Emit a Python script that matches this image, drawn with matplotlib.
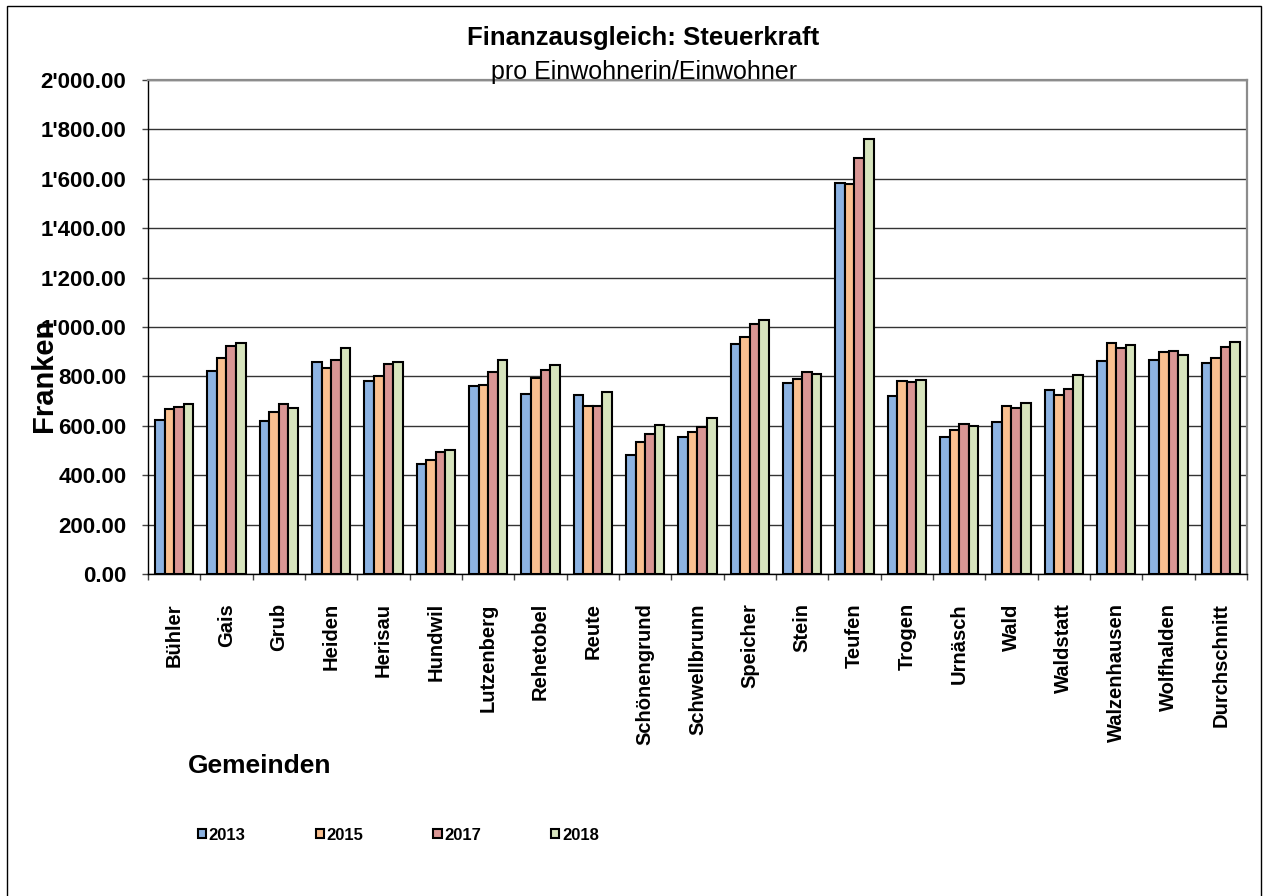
import matplotlib
matplotlib.use("Agg")
import matplotlib.pyplot as plt
import numpy as np
from matplotlib.patches import Rectangle
from matplotlib.ticker import FuncFormatter, MultipleLocator

# data (Franken pro Einwohnerin/Einwohner)
gemeinden = ["Bühler", "Gais", "Grub", "Heiden", "Herisau", "Hundwil", "Lutzenberg",
             "Rehetobel", "Reute", "Schönengrund", "Schwellbrunn", "Speicher", "Stein",
             "Teufen", "Trogen", "Urnäsch", "Wald", "Waldstatt", "Walzenhausen",
             "Wolfhalden", "Durchschnitt"]
years = ["2013", "2015", "2017", "2018"]
v2013 = [624, 822, 618, 858, 780, 447, 761, 730, 723, 480, 553, 932, 773, 1583, 719, 553, 614, 743, 861, 866, 853]
v2015 = [668, 874, 654, 834, 801, 461, 765, 793, 682, 535, 573, 961, 789, 1577, 780, 585, 681, 723, 934, 899, 876]
v2017 = [677, 923, 689, 865, 851, 495, 816, 827, 682, 565, 596, 1014, 816, 1683, 777, 607, 673, 750, 915, 904, 919]
v2018 = [688, 935, 674, 916, 857, 504, 865, 845, 738, 604, 632, 1030, 809, 1760, 786, 600, 693, 807, 927, 888, 941]
series = [v2013, v2015, v2017, v2018]
colors = ["#8DB3E2", "#FAC090", "#D99694", "#D7E4BD"]

plt.rcParams["font.family"] = ["Liberation Sans", "DejaVu Sans"]

W, H = 1267, 896
fig = plt.figure(figsize=(W / 100, H / 100), dpi=100)

# outer chart border
fig.patches.append(Rectangle((7 / W, -0.01), (1261 - 7) / W, 1.01 - 6 / H,
                             transform=fig.transFigure, fill=False,
                             edgecolor="black", linewidth=1.0))

ax = fig.add_axes([148 / W, 1 - 574 / H, (1247 - 148) / W, (574 - 80) / H])

x = np.arange(len(gemeinden))
bw = 0.183
for i, (vals, col, lab) in enumerate(zip(series, colors, years)):
    ax.bar(x + (i - 1.5) * bw, vals, bw, color=col, edgecolor="black",
           linewidth=1.5, label=lab, zorder=3)

ax.set_xlim(-0.5, len(gemeinden) - 0.5)
ax.set_ylim(0, 2000)
ax.yaxis.set_major_locator(MultipleLocator(200))
ax.yaxis.set_major_formatter(FuncFormatter(lambda v, p: f"{v:,.2f}".replace(",", "'")))
ax.yaxis.grid(True, color="#333333", linewidth=1.0, zorder=0)
ax.set_axisbelow(True)

for s in ["top", "right"]:
    ax.spines[s].set_color("#8c8c8c")
    ax.spines[s].set_linewidth(1.6)
for s in ["left", "bottom"]:
    ax.spines[s].set_color("black")
    ax.spines[s].set_linewidth(1.0)

ax.tick_params(axis="y", direction="out", length=4.5, width=1, color="#444444",
               pad=11, labelsize=16)
for lbl in ax.get_yticklabels():
    lbl.set_fontweight("bold")

ax.set_xticks(x)
ax.set_xticklabels(gemeinden, rotation=90, fontweight="bold", fontsize=14.5)
ax.set_xticks(np.arange(-0.5, len(gemeinden), 1), minor=True)
ax.tick_params(axis="x", which="major", length=0, pad=21)
ax.tick_params(axis="x", which="minor", direction="out", length=4.5, width=1, color="#444444")

fig.text(643 / W, 1 - 45 / H, "Finanzausgleich: Steuerkraft", ha="center",
         va="baseline", fontsize=18.5, fontweight="bold")
fig.text(644 / W, 1 - 79 / H, "pro Einwohnerin/Einwohner", ha="center",
         va="baseline", fontsize=18)
fig.text(188 / W, 1 - 773 / H, "Gemeinden", ha="left", va="baseline",
         fontsize=19, fontweight="bold")
fig.text(44 / W, 1 - 375 / H, "Franken", rotation=90, ha="center", va="center",
         fontsize=21, fontweight="bold")

fig.legend(loc="center left", bbox_to_anchor=(198 / W, 1 - 835 / H), ncol=4,
           frameon=False, handlelength=0.5, handleheight=0.5, handletextpad=0.15,
           columnspacing=4.2, borderaxespad=0, borderpad=0,
           prop=dict(weight="bold", size=12))

fig.savefig("out.png", dpi=100)
